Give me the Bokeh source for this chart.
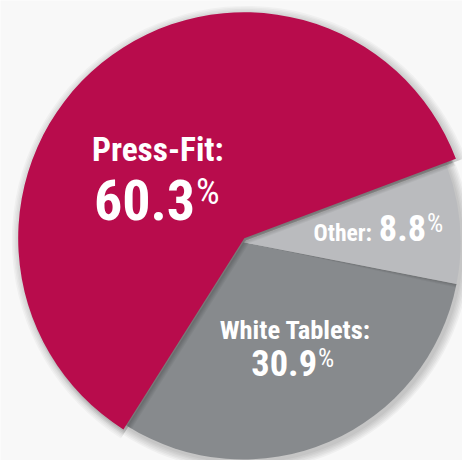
import math
from bokeh.plotting import figure
from bokeh.models import Range1d, ColumnDataSource
from bokeh.core.properties import value
from bokeh.embed import file_html
from bokeh.resources import INLINE

# ---- data ----
categories = ["Press-Fit", "White Tablets", "Other"]
shares = [60.3, 30.9, 8.8]
colors = ["#B80C4C", "#878A8D", "#BABBBE"]

W, H = 470, 468          # reference picture coordinates
PW, PH = 462, 460        # plot size in pixels
S = PW / W               # scale (same on both axes)

def Y(py):
    return H - py

p = figure(width=PW, height=PH, x_range=Range1d(0, W), y_range=Range1d(0, H),
           output_backend="svg", toolbar_location=None, min_border=0)
p.axis.visible = False
p.grid.visible = False
p.outline_line_color = None
p.background_fill_color = "#f8f8f8"
p.border_fill_color = "#f8f8f8"

# angles (anticlockwise from the start edge of Press-Fit)
start0 = math.radians(20.6)
starts, ends = [], []
acc = start0
total = sum(shares)
for s in shares:
    starts.append(acc)
    acc += 2 * math.pi * s / total
    ends.append(acc)

red_c = (248, Y(242)); red_r = 230
gray_c = (247, Y(246)); gray_r = 221

# soft shadow around the grey part
for k in range(6):
    p.circle(x=[gray_c[0] + 2], y=[gray_c[1] - 3], radius=gray_r + 1 + k * 1.5,
             fill_color="black", fill_alpha=0.035, line_color=None)

# soft shadow around the red slice
for k in range(6):
    p.wedge(x=[red_c[0] + 2], y=[red_c[1] - 2], radius=red_r + 1 + k * 1.5,
            start_angle=starts[0], end_angle=ends[0],
            fill_color="black", fill_alpha=0.03, line_color=None)

# grey slices
gsrc = ColumnDataSource(dict(start=starts[1:], end=ends[1:], color=colors[1:]))
p.wedge(x=gray_c[0], y=gray_c[1], radius=gray_r, start_angle="start", end_angle="end",
        fill_color="color", line_color=None, source=gsrc)

# shading between Other and White Tablets
for k in range(4):
    p.wedge(x=gray_c[0], y=gray_c[1], radius=gray_r,
            start_angle=ends[1] - 0.004 * (k + 1), end_angle=ends[1],
            fill_color="black", fill_alpha=0.04, line_color=None)

# shadow cast by the red slice onto the grey ones
for k in range(6):
    p.wedge(x=[red_c[0] + 1 + k * 0.8], y=[red_c[1] - 1 - k * 0.8], radius=red_r - 6,
            start_angle=starts[0], end_angle=ends[0],
            fill_color="black", fill_alpha=0.045, line_color=None)

# red slice
p.wedge(x=red_c[0], y=red_c[1], radius=red_r, start_angle=starts[0], end_angle=ends[0],
        fill_color=colors[0], line_color=None)

font = value("Roboto Condensed")
BASE_FIX = 0.37   # the svg text sits lower than its baseline by about this many em

def label(x, py, txt, size, align, style="bold"):
    p.text(x=[x], y=[Y(py) + BASE_FIX * size], text=[txt], text_font=font,
           text_font_size=f"{size * S:.1f}px",
           text_font_style=style, text_color="white", text_align=align,
           text_baseline="alphabetic")

# Press-Fit
label(93, 164, categories[0] + ":", 34, "left")
label(198, 224, f"{shares[0]}", 57, "right")
label(199, 208, "%", 38, "left", "normal")

# Other
label(378, 245, categories[2] + ":", 24, "right")
label(433, 245, f"{shares[2]}", 37, "right")
label(434, 236, "%", 26, "left", "normal")

# White Tablets
label(223, 345, categories[1] + ":", 27, "left")
label(322, 382, f"{shares[1]}", 37, "right")
label(323, 373, "%", 26, "left", "normal")

open("out.html", "w").write(file_html(p, INLINE))
